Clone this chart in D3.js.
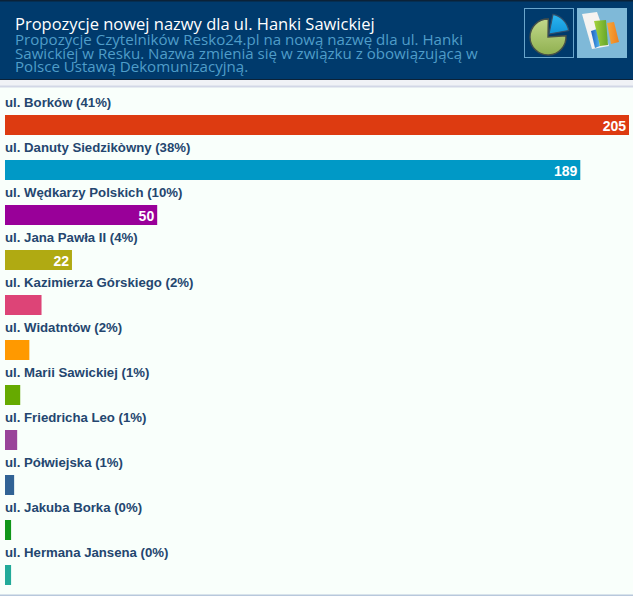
<!DOCTYPE html>
<html>
<head>
<meta charset="utf-8">
<script src="https://cdn.jsdelivr.net/npm/d3@7"></script>
<style>
html, body { margin: 0; padding: 0; background: #fff; overflow: hidden; }
svg { display: block; }
</style>
</head>
<body>
<script>
const streets = ["ul. Borków", "ul. Danuty Siedzikòwny", "ul. Wędkarzy Polskich", "ul. Jana Pawła II",
    "ul. Kazimierza Górskiego", "ul. Widatntów", "ul. Marii Sawickiej", "ul. Friedricha Leo",
    "ul. Półwiejska", "ul. Jakuba Borka", "ul. Hermana Jansena"];
const votes = [205, 189, 50, 22, 12, 8, 5, 4, 3, 2, 2];
const percents = [41, 38, 10, 4, 2, 2, 1, 1, 1, 0, 0];
const palette = ["#dd3b11", "#0099c6", "#990099", "#b0aa12", "#dd4477", "#ff9900",
    "#66aa00", "#994499", "#316395", "#109618", "#22aa99"];

const title = "Propozycje nowej nazwy dla ul. Hanki Sawickiej";
const subtitle = ["Propozycje Czytelników Resko24.pl na nową nazwę dla ul. Hanki",
    "Sawickiej w Resku. Nazwa zmienia się w związku z obowiązującą w",
    "Polsce Ustawą Dekomunizacyjną."];

const width = 633, height = 596;
const svg = d3.select("body").append("svg").attr("width", width).attr("height", height);

// page background
svg.append("rect").attr("width", width).attr("height", height).attr("fill", "#f9fffb");

// header
svg.append("rect").attr("width", width).attr("height", 80).attr("fill", "#003a6c");
svg.append("rect").attr("width", width).attr("height", 1.5).attr("fill", "#0b2238");
svg.append("rect").attr("y", 79).attr("width", width).attr("height", 1).attr("fill", "#0b2238");
svg.append("rect").attr("y", 80).attr("width", width).attr("height", 7).attr("fill", "#f0f2f6");
svg.append("rect").attr("y", 85.5).attr("width", width).attr("height", 2).attr("fill", "#d2d7e6");

const headFont = "'Open Sans', 'DejaVu Sans', sans-serif";
svg.append("text").attr("x", 15).attr("y", 29.5)
    .attr("font-family", headFont).attr("font-size", 16.5).attr("fill", "#ffffff").text(title);
svg.append("g").selectAll("text").data(subtitle).join("text")
    .attr("x", 15).attr("y", (d, i) => 45 + i * 13.5)
    .attr("font-family", headFont).attr("font-size", 15.1).attr("fill", "#4f9dc9").text(d => d);

// gradients for the two icons
const defs = svg.append("defs");
function gradient(id, c1, c2, horizontal) {
    const g = defs.append("linearGradient").attr("id", id)
        .attr("x2", horizontal ? "100%" : "0%").attr("y2", horizontal ? "0%" : "100%");
    g.append("stop").attr("offset", "0%").attr("stop-color", c1);
    g.append("stop").attr("offset", "100%").attr("stop-color", c2);
}
gradient("pieGreen", "#c3d88a", "#8fb050", false);
gradient("pieBlue", "#2cb6f0", "#1093d8", false);
gradient("barBlue", "#1b5fc0", "#58b8ee", true);
gradient("barGreen", "#a6d23c", "#63a52a", true);
gradient("barOrange", "#f7a83a", "#ee7f1e", true);

// pie icon
const pieIcon = svg.append("g");
pieIcon.append("rect").attr("x", 524.5).attr("y", 8.5).attr("width", 49).attr("height", 49)
    .attr("fill", "none").attr("stroke", "#6aa6cc");
const arc = d3.arc();
pieIcon.append("path").attr("transform", "translate(548,37)")
    .attr("d", arc({innerRadius: 0, outerRadius: 18, startAngle: 1.5, endAngle: 6.3}))
    .attr("fill", "url(#pieGreen)").attr("stroke", "#46504a").attr("stroke-width", 1.4);
pieIcon.append("path").attr("transform", "translate(549,34)")
    .attr("d", arc({innerRadius: 0, outerRadius: 20, startAngle: 0.2, endAngle: 1.4}))
    .attr("fill", "url(#pieBlue)").attr("stroke", "#35506a").attr("stroke-width", 1.2);

// bar chart icon
const barIcon = svg.append("g");
const poly = (pts, fill) => barIcon.append("polygon").attr("points", pts).attr("fill", fill);
barIcon.append("rect").attr("x", 577).attr("y", 8).attr("width", 50).attr("height", 50).attr("fill", "#7fb9d8");
poly("582,14 597,12 609,46 592,49", "#f6f3f1");
poly("591,31 597,29 600,46 595,48", "url(#barBlue)");
poly("594,21 606,20 608,45 600,46", "url(#barGreen)");
poly("607,23 614,22 619,42 611,44", "url(#barOrange)");

// bars
const x = d3.scaleLinear().domain([0, d3.max(votes)]).range([0, 624]);
const y = d3.scaleBand().domain(streets).range([92, 587]);
const color = d3.scaleOrdinal().domain(streets).range(palette);
const rows = streets.map((s, i) => ({ street: s, votes: votes[i], percent: percents[i] }));

const row = svg.append("g").selectAll("g").data(rows).join("g")
    .attr("transform", d => `translate(5,${y(d.street)})`);

row.append("text").attr("x", 0).attr("y", 15)
    .attr("font-family", "'Liberation Sans', Arial, sans-serif").attr("font-size", 13.2).attr("font-weight", "bold")
    .attr("fill", "#24466f").text(d => `${d.street} (${d.percent}%)`);

row.append("rect").attr("y", 23).attr("height", 20)
    .attr("width", d => x(d.votes)).attr("fill", d => color(d.street));

// only the big bars carry their value
row.filter(d => d.votes >= 20).append("text")
    .attr("x", d => x(d.votes) - 3).attr("y", 38.5).attr("text-anchor", "end")
    .attr("font-family", "'Liberation Sans', Arial, sans-serif").attr("font-size", 14).attr("font-weight", "bold")
    .attr("fill", "#ffffff").text(d => d.votes);

// bottom rule
svg.append("rect").attr("y", 594.5).attr("width", width).attr("height", 1.5).attr("fill", "#b8c8dc");
</script>
</body>
</html>
